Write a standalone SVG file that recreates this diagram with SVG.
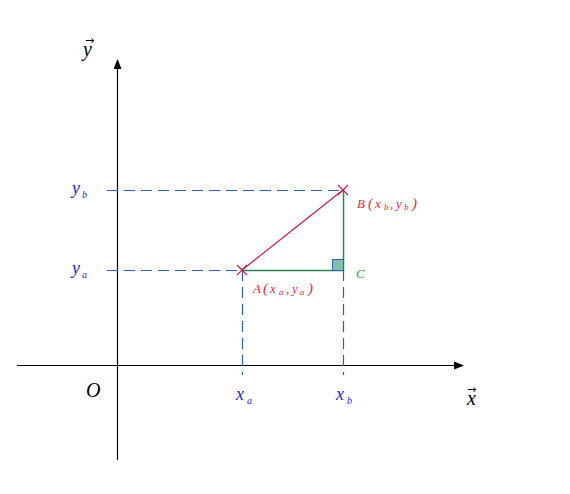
<svg xmlns="http://www.w3.org/2000/svg" width="570" height="494" viewBox="0 0 570 494">
<style>
.ax{stroke:#000;stroke-width:1.2;fill:none}
.dash{stroke:#2a60b0;stroke-width:1.2;stroke-dasharray:11 6;fill:none}
.lbl{font-family:"Liberation Serif",serif;font-style:italic;fill:#2323e0}
.blk{font-family:"Liberation Serif","DejaVu Serif",serif;font-style:italic;fill:#000;font-size:20px}
.arr{font-family:"DejaVu Sans",sans-serif;font-style:normal;font-size:11px}
.red{font-family:"Liberation Serif",serif;font-style:italic;fill:#ee2440;font-size:13px}
.par{font-size:15px}
.rs{font-size:9px}
.sub{font-size:10px}
</style>
<defs>
<marker id="ah" markerWidth="10" markerHeight="8" refX="9" refY="4" orient="auto" markerUnits="userSpaceOnUse">
<path d="M0,0 L10,4 L0,8 z" fill="#000"/>
</marker>
</defs>
<rect width="570" height="494" fill="#fff"/>
<g id="connectors">
<line id="x-axis" class="ax" x1="17" y1="365.5" x2="463" y2="365.5" marker-end="url(#ah)"/>
<line id="y-axis" class="ax" x1="117.5" y1="460" x2="117.5" y2="60" marker-end="url(#ah)"/>
<path class="dash" d="M107,190.5 H343"/>
<path class="dash" d="M107,270.5 H242"/>
<path class="dash" d="M242.5,270 V375"/>
<path class="dash" d="M343.5,270 V375"/>
<line x1="242" y1="270" x2="343" y2="190" stroke="#cc1450" stroke-width="1.2"/>
<path d="M242,270.5 H343.5 V190" stroke="#1e8a5a" stroke-width="1.5" fill="none"/>
</g>
<g id="C">
<rect x="332.5" y="259.5" width="11" height="11" fill="#80c0a8" stroke="#2f64b0" stroke-width="1"/>
<text x="356" y="278" font-family="Liberation Serif,serif" font-style="italic" font-size="13" fill="#3a9a3a">C</text>
</g>
<g id="A">
<path d="M237,265 L247,275 M247,265 L237,275" stroke="#cc1450" stroke-width="1.1"/>
<text class="red" y="293"><tspan x="253">A</tspan><tspan class="par" x="263">(</tspan><tspan x="270">x</tspan><tspan class="rs" x="279" y="295">a</tspan><tspan x="286" y="293">,</tspan><tspan x="292">y</tspan><tspan class="rs" x="300" y="295">a</tspan><tspan class="par" x="308" y="293">)</tspan></text>
</g>
<g id="B">
<path d="M338,185 L348,195 M348,185 L338,195" stroke="#cc1450" stroke-width="1.1"/>
<text class="red" y="208"><tspan x="357">B</tspan><tspan class="par" x="368">(</tspan><tspan x="375">x</tspan><tspan class="rs" x="384" y="210">b</tspan><tspan x="390" y="208">,</tspan><tspan x="396">y</tspan><tspan class="rs" x="404" y="210">b</tspan><tspan class="par" x="412" y="208">)</tspan></text>
</g>
<g id="labels">
<text class="lbl" x="72" y="194" font-size="18">y<tspan class="sub" dx="2" dy="4">b</tspan></text>
<text class="lbl" x="72" y="274" font-size="18">y<tspan class="sub" dx="2" dy="4">a</tspan></text>
<text class="lbl" x="236" y="400" font-size="18">x<tspan class="sub" dx="3" dy="4">a</tspan></text>
<text class="lbl" x="336" y="400" font-size="18">x<tspan class="sub" dx="3" dy="4">b</tspan></text>
<text class="blk" x="86" y="397">O</text>
<text class="blk"><tspan x="83" y="56">y</tspan><tspan class="arr" x="85" y="44">→</tspan></text>
<text class="blk"><tspan x="467" y="405">x</tspan><tspan class="arr" x="467" y="393">→</tspan></text>
</g>
</svg>
